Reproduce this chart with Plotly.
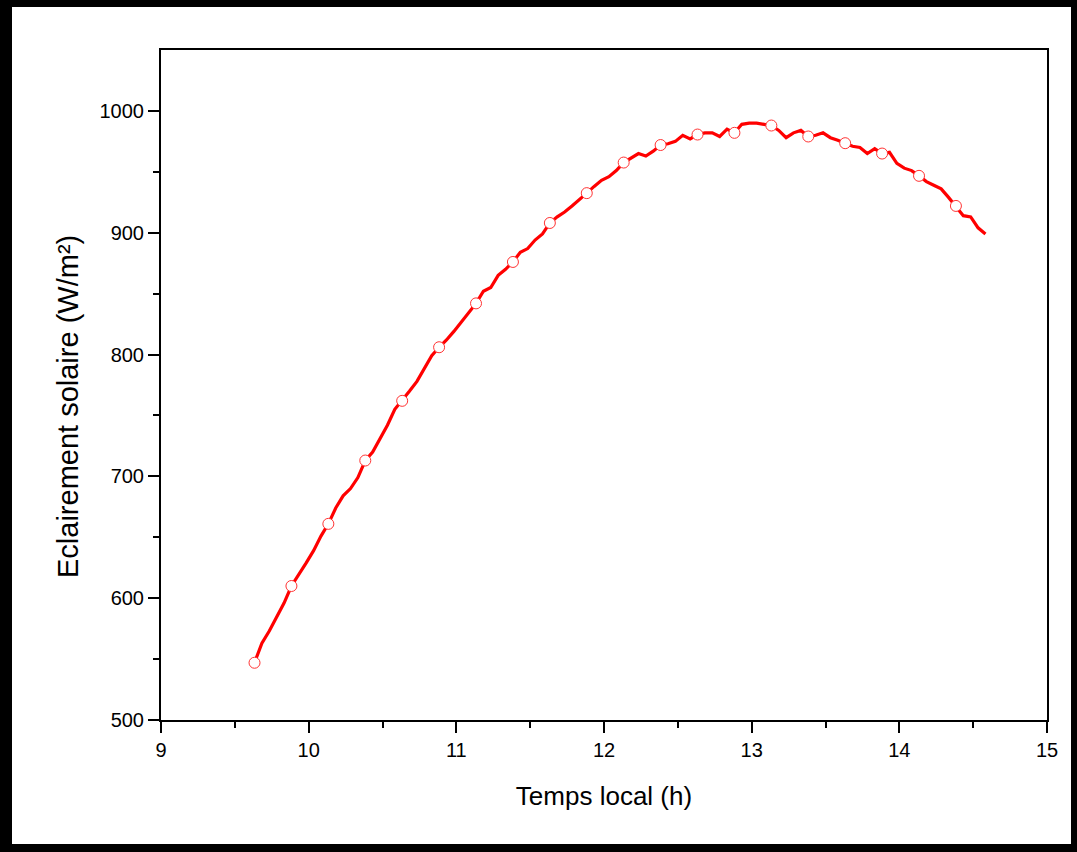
import plotly.graph_objects as go

# Time step: 3 minutes, starting at 9.633 h (9h38)
t_start = 9.6333
t_step = 0.05
irradiance = [
    547, 563, 573, 584, 596, 610, 619, 629, 639, 651,
    661, 674, 684, 690, 699, 713, 720, 731, 742, 755,
    762, 770, 778, 789, 799, 806, 812, 819, 827, 835,
    842, 852, 855, 865, 870, 876, 884, 887, 894, 899,
    908, 913, 917, 922, 927, 932.5, 938, 943, 946, 951,
    957.6, 961, 965, 963, 967, 972, 973, 975, 980, 977,
    980.6, 982, 982, 979, 985, 982, 989, 990, 990, 989,
    988, 984, 978, 982, 984, 979, 980, 982, 978, 976,
    973.5, 971, 970, 965, 969, 965, 966, 957, 953, 951,
    946.7, 942, 939, 936, 929, 922, 914, 913, 904, 899,
]
time_h = [t_start + i * t_step for i in range(len(irradiance))]
marker_every = 5
time_marked = time_h[::marker_every]
irr_marked = irradiance[::marker_every]

x_ticks = [9, 10, 11, 12, 13, 14, 15]
y_ticks = [500, 600, 700, 800, 900, 1000]

W, H = 1077, 852
L, R, T, B = 161, 30, 50, 132
pw, ph = W - L - R, H - T - B

def px_x(p):
    return (p - L) / pw

def px_y(p):
    return (H - B - p) / ph

font = "Liberation Sans, Arial, sans-serif"

fig = go.Figure()
fig.add_trace(go.Scatter(
    x=time_h, y=irradiance, mode="lines",
    line=dict(color="#ff0000", width=3.2),
    showlegend=False, hoverinfo="skip",
))
fig.add_trace(go.Scatter(
    x=time_marked, y=irr_marked, mode="markers",
    marker=dict(symbol="circle", size=11, color="white",
                line=dict(color="#ff3333", width=1)),
    showlegend=False,
))

# outer frame (black border around the whole picture)
frame = [
    (0, 0, W, 7),
    (0, 0, 12, H),
    (0, H - 8, W, H),
    (W - 6, 0, W, H),
]
shapes = []
for x0, y0, x1, y1 in frame:
    shapes.append(dict(type="rect", xref="paper", yref="paper",
                       x0=px_x(x0), x1=px_x(x1), y0=px_y(y1), y1=px_y(y0),
                       fillcolor="black", line=dict(width=0), layer="above"))

fig.update_layout(
    width=W, height=H,
    margin=dict(l=L, r=R, t=T, b=B, pad=0),
    paper_bgcolor="white", plot_bgcolor="white",
    font=dict(family=font, color="black", size=20),
    shapes=shapes,
    annotations=[dict(
        text="Eclairement solaire (W/m²)", textangle=-90,
        xref="paper", yref="paper", x=px_x(68), y=px_y(407),
        xanchor="center", yanchor="middle", showarrow=False,
        font=dict(size=29, family=font, color="black"),
    )],
    xaxis=dict(
        range=[9, 15], tickvals=x_ticks, ticks="outside", ticklen=11, tickwidth=2,
        tickcolor="black", showline=True, linewidth=2, linecolor="black",
        mirror=True, showgrid=False, zeroline=False,
        tickfont=dict(size=20, family=font),
        minor=dict(tickvals=[9.5, 10.5, 11.5, 12.5, 13.5, 14.5], ticks="outside",
                   ticklen=6, tickwidth=2, tickcolor="black"),
        title=dict(text="Temps local (h)", font=dict(size=26, family=font), standoff=27),
    ),
    yaxis=dict(
        range=[500, 1050], tickvals=y_ticks, ticks="outside", ticklen=11, tickwidth=2,
        tickcolor="black", showline=True, linewidth=2, linecolor="black",
        mirror=True, showgrid=False, zeroline=False,
        tickfont=dict(size=20, family=font),
        minor=dict(tickvals=[550, 650, 750, 850, 950], ticks="outside",
                   ticklen=6, tickwidth=2, tickcolor="black"),
    ),
)

fig.write_html("out.html", config={"displayModeBar": False},
               post_script="document.body.style.margin='0';")
